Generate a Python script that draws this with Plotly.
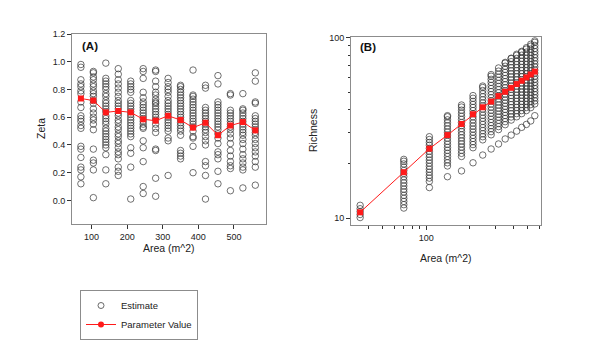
import plotly.graph_objects as go

# ---------------- Panel A data (Zeta vs Area) ----------------
areas_a = [70, 105, 140, 175, 210, 245, 280, 315, 350, 385, 420, 455, 490, 525, 560]
zeta_param = [0.735, 0.72, 0.635, 0.645, 0.635, 0.585, 0.575, 0.61, 0.58, 0.525, 0.56, 0.47, 0.54, 0.565, 0.505]
zeta_est = [
    [0.98, 0.96, 0.87, 0.84, 0.82, 0.79, 0.77, 0.71, 0.67, 0.61, 0.59, 0.57, 0.54, 0.52, 0.39, 0.37, 0.31, 0.24, 0.22, 0.17, 0.12],
    [0.93, 0.92, 0.89, 0.87, 0.84, 0.82, 0.79, 0.77, 0.75, 0.72, 0.70, 0.66, 0.63, 0.60, 0.58, 0.55, 0.51, 0.37, 0.29, 0.27, 0.22, 0.02],
    [0.99, 0.88, 0.86, 0.84, 0.82, 0.80, 0.77, 0.75, 0.72, 0.70, 0.68, 0.66, 0.64, 0.61, 0.59, 0.57, 0.55, 0.52, 0.50, 0.48, 0.46, 0.44, 0.42, 0.40, 0.38, 0.33, 0.22, 0.12],
    [0.95, 0.91, 0.87, 0.84, 0.81, 0.78, 0.75, 0.72, 0.70, 0.68, 0.66, 0.63, 0.61, 0.58, 0.56, 0.53, 0.51, 0.48, 0.46, 0.43, 0.41, 0.38, 0.35, 0.33, 0.30, 0.24, 0.21, 0.18],
    [0.86, 0.84, 0.82, 0.80, 0.78, 0.72, 0.70, 0.68, 0.66, 0.64, 0.62, 0.60, 0.58, 0.56, 0.54, 0.52, 0.50, 0.48, 0.46, 0.38, 0.34, 0.24, 0.01],
    [0.95, 0.93, 0.88, 0.78, 0.74, 0.71, 0.69, 0.67, 0.65, 0.63, 0.61, 0.59, 0.57, 0.55, 0.53, 0.52, 0.43, 0.38, 0.28, 0.10, 0.05],
    [0.94, 0.93, 0.86, 0.82, 0.78, 0.76, 0.73, 0.71, 0.70, 0.68, 0.66, 0.64, 0.62, 0.60, 0.58, 0.55, 0.52, 0.49, 0.37, 0.36, 0.16, 0.03],
    [0.88, 0.85, 0.82, 0.80, 0.78, 0.75, 0.72, 0.70, 0.68, 0.66, 0.64, 0.62, 0.60, 0.58, 0.56, 0.54, 0.52, 0.50, 0.45, 0.43, 0.18],
    [0.83, 0.82, 0.80, 0.78, 0.76, 0.74, 0.72, 0.70, 0.68, 0.66, 0.64, 0.62, 0.60, 0.58, 0.56, 0.54, 0.52, 0.50, 0.47, 0.36, 0.34, 0.32, 0.30],
    [0.94, 0.76, 0.75, 0.73, 0.71, 0.69, 0.67, 0.65, 0.63, 0.61, 0.59, 0.57, 0.55, 0.53, 0.50, 0.46, 0.45, 0.39, 0.20],
    [0.83, 0.81, 0.67, 0.65, 0.63, 0.61, 0.59, 0.57, 0.55, 0.53, 0.51, 0.49, 0.46, 0.43, 0.40, 0.28, 0.25, 0.18, 0.01],
    [0.90, 0.84, 0.71, 0.69, 0.67, 0.65, 0.63, 0.61, 0.59, 0.57, 0.55, 0.53, 0.51, 0.48, 0.45, 0.41, 0.35, 0.33, 0.30, 0.21, 0.12],
    [0.77, 0.76, 0.65, 0.63, 0.61, 0.59, 0.57, 0.55, 0.53, 0.51, 0.48, 0.45, 0.41, 0.36, 0.32, 0.28, 0.25, 0.23, 0.07],
    [0.77, 0.66, 0.65, 0.63, 0.61, 0.59, 0.57, 0.55, 0.53, 0.51, 0.49, 0.47, 0.44, 0.41, 0.37, 0.33, 0.30, 0.27, 0.24, 0.22, 0.09],
    [0.92, 0.86, 0.71, 0.70, 0.61, 0.59, 0.57, 0.55, 0.53, 0.51, 0.49, 0.47, 0.44, 0.41, 0.38, 0.35, 0.32, 0.28, 0.24, 0.11],
]

# ---------------- Panel B data (Richness vs Area, log-log) ----------------
areas_b = [35, 70, 105, 140, 175, 210, 245, 280, 315, 350, 385, 420, 455, 490, 525, 560]
rich_param = [10.8, 18.0, 24.3, 28.9, 33.3, 37.7, 41.2, 44.3, 47.5, 50.2, 52.8, 55.4, 57.8, 60.3, 62.6, 64.9]
rich_est = [
    [10.1, 10.5, 10.9, 11.3, 11.8],
    [11.4, 11.9, 12.4, 12.9, 13.4, 14.0, 14.5, 15.1, 15.7, 16.3, 17.0, 17.7, 18.4, 19.2, 20.0, 20.7, 21.2],
    [14.8, 16.0, 16.7, 17.3, 18.0, 18.7, 19.4, 20.2, 21.0, 21.8, 22.6, 23.5, 24.4, 25.4, 26.3, 27.3, 28.3],
    [17.0, 19.5, 20.3, 21.1, 22.0, 22.9, 23.8, 24.7, 25.7, 26.7, 27.8, 28.9, 30.0, 31.2, 32.5, 33.8, 35.1, 36.5, 37.0],
    [18.3, 22.0, 22.9, 23.8, 24.8, 25.8, 26.8, 27.9, 29.0, 30.2, 31.4, 32.6, 33.9, 35.3, 36.7, 38.2, 39.7, 41.3, 42.4],
    [20.3, 24.6, 25.6, 26.6, 27.7, 28.8, 30.0, 31.2, 32.4, 33.7, 35.1, 36.5, 38.0, 39.5, 41.1, 42.7, 44.4, 46.2, 47.8],
    [22.4, 27.2, 28.3, 29.4, 30.6, 31.8, 33.1, 34.4, 35.8, 37.2, 38.7, 40.3, 41.9, 43.5, 45.3, 47.1, 49.0, 51.0, 53.0, 54.0],
    [24.2, 29.0, 30.2, 31.4, 32.6, 33.9, 35.3, 36.7, 38.2, 39.7, 41.3, 43.0, 44.7, 46.5, 48.4, 50.3, 52.3, 54.4, 56.6, 58.8, 61.2, 62.5],
    [25.8, 31.0, 32.2, 33.5, 34.9, 36.3, 37.7, 39.2, 40.8, 42.4, 44.1, 45.9, 47.7, 49.6, 51.6, 53.7, 55.8, 58.0, 60.4, 62.8, 65.3, 68.0],
    [27.5, 33.0, 34.3, 35.7, 37.1, 38.6, 40.1, 41.7, 43.4, 45.1, 46.9, 48.8, 50.8, 52.8, 54.9, 57.1, 59.4, 61.8, 64.2, 66.8, 69.5, 72.3, 73.0],
    [28.9, 35.0, 36.4, 37.9, 39.4, 41.0, 42.6, 44.3, 46.1, 47.9, 49.8, 51.8, 53.9, 56.0, 58.3, 60.6, 63.0, 65.5, 68.2, 70.9, 73.7, 76.6, 77.0],
    [30.4, 36.5, 38.0, 39.5, 41.1, 42.7, 44.4, 46.2, 48.0, 49.9, 51.9, 54.0, 56.2, 58.4, 60.7, 63.2, 65.7, 68.3, 71.0, 73.9, 76.8, 79.9, 81.0],
    [31.9, 38.0, 39.5, 41.1, 42.7, 44.4, 46.2, 48.1, 50.0, 52.0, 54.1, 56.2, 58.5, 60.8, 63.2, 65.8, 68.4, 71.1, 74.0, 76.9, 80.0, 83.2, 84.0],
    [33.1, 39.5, 41.1, 42.7, 44.4, 46.2, 48.0, 50.0, 52.0, 54.0, 56.2, 58.4, 60.8, 63.2, 65.7, 68.3, 71.1, 73.9, 76.9, 80.0, 83.2, 86.5, 88.0],
    [34.6, 41.0, 42.6, 44.3, 46.1, 48.0, 49.9, 51.9, 53.9, 56.1, 58.3, 60.7, 63.1, 65.6, 68.2, 71.0, 73.8, 76.8, 79.8, 83.0, 86.4, 89.8, 92.0],
    [37.0, 43.0, 44.7, 46.5, 48.4, 50.3, 52.3, 54.4, 56.6, 58.9, 61.2, 63.7, 66.2, 68.9, 71.6, 74.5, 77.5, 80.6, 83.8, 87.2, 90.6, 94.3, 96.0],
]

# tick labels
a_xticks = [100, 200, 300, 400, 500]
a_yticks = [0.0, 0.2, 0.4, 0.6, 0.8, 1.0, 1.2]
b_xticks = [100]
b_xminor = [40, 50, 60, 70, 80, 90, 200, 300, 400, 500, 600]
b_yticks = [10, 100]
b_yminor = [20, 30, 40, 50, 60, 70, 80, 90]

RED = "#ff1a1a"
FONT = "Liberation Sans, Arial, sans-serif"
W, H = 600, 363
OFF = 8  # page body margin offset


def px(x):
    return (x - OFF) / W


def py(y):
    return 1 - (y - OFF) / H


fig = go.Figure()


def flat(xs, groups):
    X, Y = [], []
    for x, g in zip(xs, groups):
        for v in g:
            X.append(x)
            Y.append(v)
    return X, Y


circ = dict(symbol="circle-open", size=6.5, color="#333333", line=dict(width=0.7))
sq = dict(symbol="square", size=6, color=RED)

xa, ya = flat(areas_a, zeta_est)
fig.add_trace(go.Scatter(x=xa, y=ya, mode="markers", xaxis="x", yaxis="y", marker=circ, showlegend=False))
fig.add_trace(go.Scatter(x=areas_a, y=zeta_param, mode="lines+markers", xaxis="x", yaxis="y",
                         line=dict(color=RED, width=1), marker=sq, showlegend=False))

xb, yb = flat(areas_b, rich_est)
fig.add_trace(go.Scatter(x=xb, y=yb, mode="markers", xaxis="x2", yaxis="y2", marker=circ, showlegend=False))
fig.add_trace(go.Scatter(x=areas_b, y=rich_param, mode="lines+markers", xaxis="x2", yaxis="y2",
                         line=dict(color=RED, width=1), marker=sq, showlegend=False))

# legend entries
fig.add_trace(go.Scatter(x=[None], y=[None], mode="markers", name="Estimate",
                         marker=dict(symbol="circle-open", size=6, color="#444444", line=dict(width=0.8))))
fig.add_trace(go.Scatter(x=[None], y=[None], mode="lines+markers", name="Parameter Value",
                         line=dict(color=RED, width=1),
                         marker=dict(symbol="circle", size=6, color=RED)))

axis_common = dict(showline=True, linecolor="#8c8c8c", linewidth=1, mirror=True,
                   ticks="outside", ticklen=4, tickcolor="#333333", tickwidth=1,
                   showgrid=False, zeroline=False, automargin=False,
                   tickfont=dict(size=9, color="#222222", family=FONT))

fig.update_layout(
    width=W, height=H,
    margin=dict(l=0, r=0, t=0, b=0),
    paper_bgcolor="white", plot_bgcolor="white",
    font=dict(family=FONT, color="#222222"),
    xaxis=dict(domain=[px(72), px(266)], range=[45, 590], tickvals=a_xticks, anchor="y", **axis_common),
    yaxis=dict(domain=[py(224), py(34)], range=[-0.17, 1.2], tickvals=a_yticks,
               ticktext=[f"{v:.1f}" for v in a_yticks], anchor="x", **axis_common),
    xaxis2=dict(domain=[px(351), px(541)], type="log", range=[1.481, 2.791], tickvals=b_xticks,
                ticktext=[str(v) for v in b_xticks],
                minor=dict(tickvals=b_xminor, ticks="outside", ticklen=2.5, tickcolor="#333333"),
                anchor="y2", **axis_common),
    yaxis2=dict(domain=[py(225), py(37)], type="log", range=[0.963, 2.004], tickvals=b_yticks,
                ticktext=[str(v) for v in b_yticks],
                minor=dict(tickvals=b_yminor, ticks="outside", ticklen=2.5, tickcolor="#333333"),
                anchor="x2", **axis_common),
    legend=dict(x=px(80), y=py(290), xanchor="left", yanchor="top",
                bordercolor="#8c8c8c", borderwidth=1, bgcolor="white",
                font=dict(size=9.5, family=FONT, color="#222222"),
                tracegroupgap=0, itemwidth=30),
    annotations=[
        dict(text="<b>(A)</b>", x=px(80), y=py(38), xref="paper", yref="paper",
             xanchor="left", yanchor="top", showarrow=False, font=dict(size=11.5, family=FONT, color="#111111")),
        dict(text="<b>(B)</b>", x=px(358), y=py(39), xref="paper", yref="paper",
             xanchor="left", yanchor="top", showarrow=False, font=dict(size=11.5, family=FONT, color="#111111")),
        # axis titles
        dict(text="Zeta", x=px(41), y=py(129), xref="paper", yref="paper", textangle=-90,
             xanchor="center", yanchor="middle", showarrow=False, font=dict(size=10.5, family=FONT, color="#222222")),
        dict(text="Area (m^2)", x=px(169), y=py(248), xref="paper", yref="paper",
             xanchor="center", yanchor="middle", showarrow=False, font=dict(size=10.5, family=FONT, color="#222222")),
        dict(text="Richness", x=px(313), y=py(131), xref="paper", yref="paper", textangle=-90,
             xanchor="center", yanchor="middle", showarrow=False, font=dict(size=10.5, family=FONT, color="#222222")),
        dict(text="Area (m^2)", x=px(446), y=py(258), xref="paper", yref="paper",
             xanchor="center", yanchor="middle", showarrow=False, font=dict(size=10.5, family=FONT, color="#222222")),
    ],
)

fig.write_html("out.html")
